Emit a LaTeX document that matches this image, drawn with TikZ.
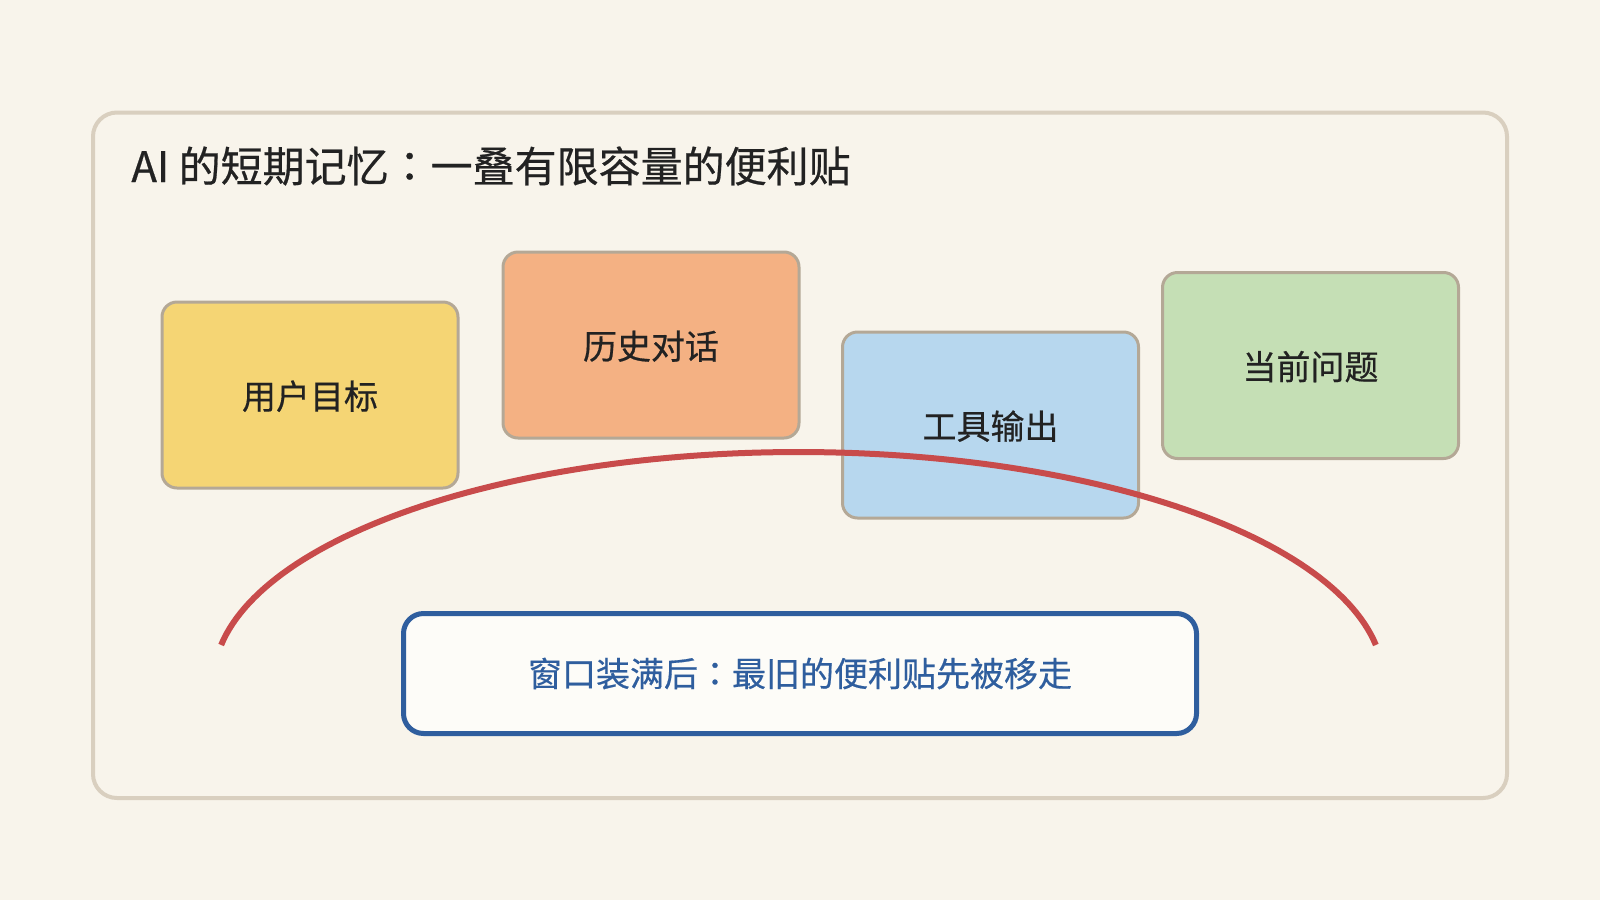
\documentclass[tikz,border=0pt]{standalone}
\usepackage{fontspec}
\newfontfamily\cjk[FakeBold=0.5]{Noto Sans CJK SC}
\newfontfamily\cjkjp[FakeBold=0.5]{Noto Sans CJK JP}
\newcommand{\fwcolon}{{\cjkjp ：}}
\definecolor{bgc}{HTML}{F8F4EB}
\definecolor{framec}{HTML}{D9CFBF}
\definecolor{bordc}{HTML}{B4A896}
\definecolor{yellowc}{HTML}{F5D574}
\definecolor{orangec}{HTML}{F4B183}
\definecolor{bluec}{HTML}{B7D7EE}
\definecolor{greenc}{HTML}{C5DFB5}
\definecolor{redc}{HTML}{C84B4B}
\definecolor{navyc}{HTML}{2F5E9E}
\definecolor{textc}{HTML}{222222}
\definecolor{whitec}{HTML}{FDFCF8}
\tikzset{
  note/.style={draw=bordc, line width=1.5pt, rounded corners=7.5pt,
    minimum width=148pt, minimum height=93pt, inner sep=0pt,
    text height=1.53em, text depth=0.12em,
    text=textc, font=\cjk\fontsize{17pt}{20pt}\selectfont},
  msgbox/.style={draw=navyc, line width=2.5pt, rounded corners=10pt, fill=whitec,
    minimum width=396.5pt, minimum height=60pt, inner sep=0pt,
    text=navyc, font=\cjk\fontsize{17pt}{20pt}\selectfont},
  titletext/.style={anchor=base west, inner sep=0pt, text=textc,
    font=\cjk\fontsize{21pt}{25pt}\selectfont},
  windowarc/.style={draw=redc, line width=3pt}
}
\begin{document}
\begin{tikzpicture}[x=0.5pt,y=-0.5pt]
\useasboundingbox (0,0) rectangle (1600,900);
\fill[bgc] (0,0) rectangle (1600,900);
% outer frame
\draw[framec, line width=2pt, rounded corners=12pt] (93,112.5) rectangle (1507,798);
% title
\node[titletext] (title) at (131,182) {AI 的短期记忆\fwcolon 一叠有限容量的便利贴};
% sticky notes
\node[note, fill=yellowc] (goal) at (310,395) {用户目标};
\node[note, fill=orangec] (hist) at (651,345) {历史对话};
\node[note, fill=bluec] (tool) at (990.5,425) {工具输出};
\node[note, fill=greenc] (quest) at (1310.5,365.5) {当前问题};
% context window arc
\draw[windowarc] plot[domain=170.74:9.26, samples=120] ({798.5+585*cos(\x)}, {682-230*sin(\x)});
% message
\node[msgbox] (msg) at (800,673.5) {窗口装满后\fwcolon 最旧的便利贴先被移走};
\end{tikzpicture}
\end{document}
